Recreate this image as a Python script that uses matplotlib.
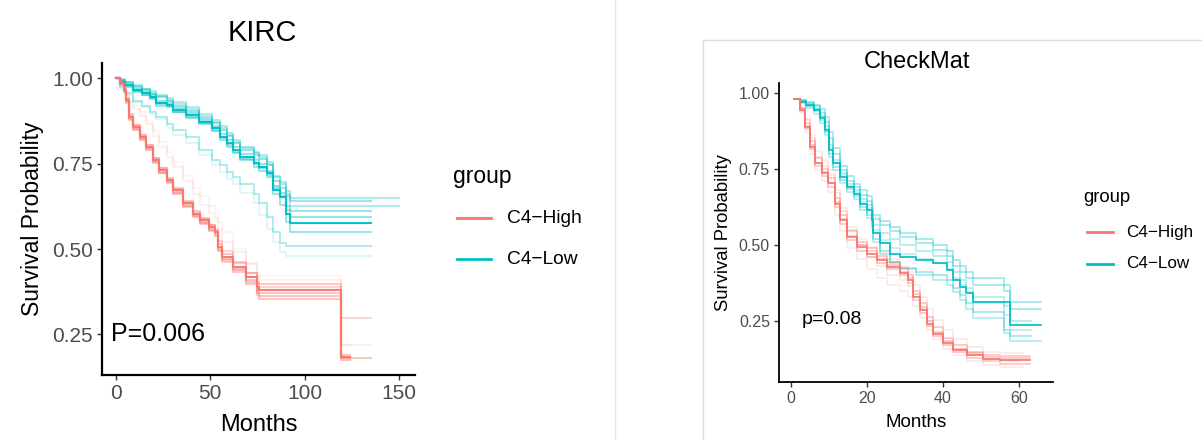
import matplotlib
matplotlib.use("Agg")
import matplotlib.pyplot as plt
from matplotlib.lines import Line2D
from matplotlib.patches import Rectangle

plt.rcParams["font.family"] = ["Liberation Sans", "DejaVu Sans"]

RED = "#F8766D"
TEAL = "#00BFC4"
GROUPS = ["C4\u2212High", "C4\u2212Low"]

# --------------------------------------------------------------------------- #
# KIRC: Kaplan-Meier curves, shared time grids
# --------------------------------------------------------------------------- #
kirc_low_t = [0, 2, 5, 9, 14, 18, 21, 27, 30, 37, 44, 51, 55, 59, 62, 66,
              73, 76, 80, 83, 87, 90, 92]
kirc_low_main = [1.00, .990, .980, .966, .956, .946, .927, .922, .907, .893, .873, .854,
                 .829, .810, .790, .771, .751, .741, .722, .673, .653, .604, .575]
kirc_low_a = [1.00, .995, .985, .975, .965, .955, .945, .935, .920, .905, .885, .870,
              .850, .830, .810, .790, .775, .765, .745, .700, .680, .655, .640]
kirc_low_b = [1.00, .995, .988, .978, .968, .958, .948, .938, .925, .910, .890, .872,
              .855, .835, .815, .795, .780, .770, .750, .710, .690, .660, .625]
kirc_low_c = [1.00, .997, .990, .980, .970, .962, .952, .942, .930, .915, .895, .878,
              .860, .840, .820, .800, .785, .775, .755, .715, .695, .670, .650]
kirc_low_d = [1.00, .992, .982, .970, .960, .950, .935, .928, .912, .898, .878, .860,
              .838, .818, .798, .778, .760, .750, .730, .685, .665, .625, .610]
kirc_low_e = [1.00, .990, .978, .962, .952, .942, .925, .918, .902, .888, .868, .850,
              .825, .805, .785, .765, .748, .738, .718, .678, .655, .615, .595]
kirc_low_f = [1.00, .988, .975, .960, .950, .940, .920, .915, .900, .885, .865, .845,
              .820, .800, .780, .760, .740, .730, .710, .660, .630, .580, .550]
kirc_low_g = [1.00, .975, .956, .935, .920, .900, .888, .865, .849, .829, .790, .761,
              .745, .725, .712, .690, .660, .634, .595, .550, .517, .510, .510]
kirc_low_h = [1.00, .970, .950, .930, .915, .895, .880, .855, .835, .810, .775, .745,
              .725, .705, .690, .665, .635, .600, .560, .520, .490, .480, .480]
kirc_low_curves = [kirc_low_main, kirc_low_a, kirc_low_b, kirc_low_c, kirc_low_d,
                   kirc_low_e, kirc_low_f, kirc_low_g, kirc_low_h]
kirc_low_end = [135, 135, 150, 150, 135, 135, 135, 135, 135]

kirc_high_t = [0, 2, 4, 5.5, 7, 9, 12.5, 16, 19.5, 23, 27, 30, 35.5, 41, 44.5, 49.5,
               52.5, 54, 56, 62, 69, 74.5, 76, 118, 119.5]
kirc_high_main = [1.00, .985, .966, .937, .888, .858, .829, .800, .761, .731, .702, .673,
                  .634, .604, .585, .565, .551, .507, .478, .448, .419, .390, .380, .380, .185]
kirc_high_a = [1.00, .987, .969, .942, .895, .864, .835, .806, .768, .738, .708, .679,
               .640, .610, .591, .571, .557, .515, .486, .458, .430, .404, .398, .398, .190]
kirc_high_b = [1.00, .987, .968, .940, .893, .862, .833, .804, .766, .736, .706, .677,
               .638, .608, .589, .569, .555, .525, .495, .462, .430, .400, .390, .390, .297]
kirc_high_c = [1.00, .983, .963, .933, .884, .854, .825, .796, .757, .727, .698, .668,
               .629, .599, .580, .560, .546, .502, .472, .442, .410, .378, .372, .372, .180]
kirc_high_d = [1.00, .983, .962, .931, .881, .851, .822, .793, .754, .724, .695, .665,
               .626, .596, .577, .557, .542, .498, .468, .438, .404, .372, .362, .362, .175]
kirc_high_e = [1.00, .982, .960, .928, .878, .848, .819, .790, .752, .722, .692, .662,
               .623, .593, .574, .554, .538, .494, .462, .432, .398, .366, .355, .355, .180]
kirc_high_f = [1.00, .990, .975, .955, .930, .910, .890, .865, .830, .800, .770, .740,
               .700, .660, .630, .605, .590, .560, .520, .490, .455, .420, .410, .410, .220]
kirc_high_g = [1.00, .990, .980, .960, .940, .920, .900, .875, .845, .815, .785, .755,
               .715, .680, .655, .625, .610, .580, .550, .500, .460, .430, .420, .420, .220]
kirc_high_curves = [kirc_high_main, kirc_high_a, kirc_high_b, kirc_high_c, kirc_high_d,
                    kirc_high_e, kirc_high_f, kirc_high_g]
kirc_high_end = [124, 124, 135, 135, 124, 124, 135, 124]

# --------------------------------------------------------------------------- #
# CheckMat
# --------------------------------------------------------------------------- #
cm_low_t = [1, 2.5, 4, 6, 7.7, 9, 10, 11.2, 13, 14.7, 16.5, 18.2, 20, 21.3, 21.7, 23.5,
            26, 28.7, 33, 37.5, 41, 42.7, 44.5, 46, 48, 56, 57.6]
cm_low_main = [.981, .970, .960, .943, .916, .877, .812, .768, .724, .691, .669, .636, .615,
               .582, .538, .505, .472, .461, .450, .440, .418, .385, .363, .341, .313, .313, .237]
cm_low_a = [.981, .975, .970, .960, .945, .920, .870, .820, .760, .725, .700, .680, .660,
            .630, .600, .580, .560, .540, .520, .500, .480, .450, .430, .410, .390, .370, .313]
cm_low_b = [.981, .975, .965, .955, .935, .905, .850, .800, .745, .710, .690, .665, .645,
            .610, .585, .565, .545, .525, .505, .485, .465, .430, .410, .390, .370, .350, .290]
cm_low_c = [.981, .972, .962, .948, .925, .890, .830, .780, .735, .700, .680, .650, .630,
            .600, .565, .540, .520, .500, .480, .465, .445, .410, .385, .360, .330, .300, .250]
cm_low_d = [.981, .968, .955, .940, .910, .870, .800, .755, .715, .685, .660, .625, .600,
            .570, .520, .480, .445, .425, .410, .400, .385, .360, .335, .310, .280, .220, .200]
cm_low_e = [.981, .965, .950, .930, .900, .860, .790, .745, .705, .675, .650, .615, .590,
            .555, .510, .470, .440, .420, .400, .385, .370, .345, .320, .290, .260, .210, .184]
cm_low_f = [.981, .970, .958, .945, .920, .880, .820, .770, .730, .695, .675, .640, .620,
            .590, .550, .515, .490, .470, .455, .440, .420, .390, .370, .345, .310, .270, .220]
cm_low_curves = [cm_low_main, cm_low_a, cm_low_b, cm_low_c, cm_low_d, cm_low_e, cm_low_f]
cm_low_end = [65.7, 65.7, 65.7, 63, 63, 65.7, 63]

cm_high_t = [1, 2.5, 3.8, 5.1, 6.4, 8.1, 9.9, 11.6, 13, 14.7, 17.3, 20, 22.6, 25.2, 28.7,
             30.9, 32.2, 34, 35.7, 37.5, 40.1, 42.7, 46.2, 50.6, 55]
cm_high_main = [.981, .943, .888, .823, .768, .735, .702, .636, .582, .527, .494, .472, .450,
                .428, .407, .385, .330, .286, .242, .209, .177, .155, .138, .127, .122]
cm_high_a = [.981, .950, .900, .840, .785, .750, .720, .655, .600, .545, .510, .490, .465,
             .445, .425, .400, .350, .310, .265, .230, .195, .170, .150, .140, .135]
cm_high_b = [.981, .940, .880, .815, .760, .725, .690, .625, .570, .515, .480, .460, .440,
             .420, .400, .375, .320, .275, .235, .200, .170, .148, .130, .118, .110]
cm_high_c = [.981, .955, .915, .860, .810, .780, .745, .680, .620, .560, .520, .495, .475,
             .455, .430, .410, .370, .330, .290, .255, .220, .190, .165, .150, .145]
cm_high_d = [.981, .935, .870, .800, .745, .710, .675, .600, .545, .490, .455, .420, .390,
             .370, .350, .330, .300, .260, .220, .190, .160, .140, .120, .105, .100]
cm_high_e = [.981, .945, .890, .830, .770, .740, .705, .640, .585, .530, .500, .480, .455,
             .435, .410, .390, .340, .295, .250, .215, .185, .160, .145, .132, .128]
cm_high_f = [.981, .950, .910, .850, .790, .760, .730, .670, .610, .550, .500, .460, .430,
             .400, .385, .365, .330, .290, .250, .210, .180, .160, .140, .125, .120]
cm_high_curves = [cm_high_main, cm_high_a, cm_high_b, cm_high_c, cm_high_d, cm_high_e,
                  cm_high_f]
cm_high_end = [62.9, 62.9, 62.9, 61, 61, 62.9, 60]

# line transparency per curve (first = bold estimate, rest = resamples)
ALPHA_KL = [0.95, 0.4, 0.3, 0.3, 0.4, 0.4, 0.4, 0.3, 0.12]
ALPHA_KH = [0.95, 0.4, 0.3, 0.4, 0.4, 0.4, 0.12, 0.08]
ALPHA_CL = [0.95, 0.35, 0.35, 0.3, 0.35, 0.3, 0.25]
ALPHA_CH = [0.95, 0.4, 0.4, 0.15, 0.15, 0.4, 0.2]


def draw_curves(ax, t, curves, ends, alphas, color, lw):
    # KM-style step curves, extended flat to the last follow-up time
    for s, end, a in zip(curves, ends, alphas):
        ax.step(t + [end], s + [s[-1]], where="post", color=color, alpha=a, lw=lw)


def style_axes(ax, xticks, tick_fs, spine_lw):
    for side in ("top", "right"):
        ax.spines[side].set_visible(False)
    for side in ("left", "bottom"):
        ax.spines[side].set_linewidth(spine_lw)
        ax.spines[side].set_color("black")
    ax.set_xticks(xticks)
    ax.set_yticks([0.25, 0.5, 0.75, 1.0])
    ax.set_yticklabels(["0.25", "0.50", "0.75", "1.00"])
    ax.tick_params(length=3.5, width=1, color="#333333", labelcolor="#4D4D4D",
                   labelsize=tick_fs, pad=3)


def legend_block(fig, title_xy, line_x, text_x, item_y, fs_title, fs_item):
    """Legend drawn in pixel coordinates (origin top-left)."""
    fig.text(title_xy[0] / W, 1 - title_xy[1] / H, "group", fontsize=fs_title,
             va="center", ha="left")
    for yy, lab, col in zip(item_y, GROUPS, [RED, TEAL]):
        fig.add_artist(Line2D([line_x[0] / W, line_x[1] / W], [1 - yy / H] * 2,
                              transform=fig.transFigure, color=col, lw=2))
        fig.text(text_x / W, 1 - yy / H, lab, fontsize=fs_item, va="center", ha="left")


W, H = 1202, 440
fig = plt.figure(figsize=(W / 100, H / 100), dpi=100)

# divider and right-hand frame
fig.add_artist(Line2D([615 / W, 615 / W], [0, 1], transform=fig.transFigure,
                      color="#E6E6E6", lw=1))
fig.add_artist(Rectangle((703 / W, -0.01), 0.5, 1 - 40 / H + 0.01,
                         transform=fig.transFigure, fill=False,
                         edgecolor="#DDDDDD", lw=1))

# ---- KIRC -----------------------------------------------------------------
ax1 = fig.add_axes([102 / W, 1 - 375 / H, (415 - 102) / W, (375 - 63) / H])
draw_curves(ax1, kirc_low_t, kirc_low_curves, kirc_low_end, ALPHA_KL, TEAL, 1.5)
draw_curves(ax1, kirc_high_t, kirc_high_curves, kirc_high_end, ALPHA_KH, RED, 1.5)
ax1.set_xlim(-7.4, 158.5)
ax1.set_ylim(0.131, 1.045)
style_axes(ax1, [0, 50, 100, 150], 15, 1.6)
ax1.set_xlabel("Months", fontsize=17, labelpad=8)
ax1.set_ylabel("Survival Probability", fontsize=16.5, labelpad=6)
fig.text(262 / W, 1 - 33 / H, "KIRC", fontsize=21, ha="center", va="center")
ax1.text(-2.5, 0.25, "P=0.006", fontsize=18, ha="left", va="center")
legend_block(fig, (453, 176), (457, 491), 507, [218, 259], 16.5, 13.8)

# ---- CheckMat ---------------------------------------------------------------
ax2 = fig.add_axes([779 / W, 1 - 382 / H, (1053 - 779) / W, (382 - 83) / H])
draw_curves(ax2, cm_low_t, cm_low_curves, cm_low_end, ALPHA_CL, TEAL, 1.3)
draw_curves(ax2, cm_high_t, cm_high_curves, cm_high_end, ALPHA_CH, RED, 1.3)
ax2.set_xlim(-3.07, 68.9)
ax2.set_ylim(0.05, 1.032)
style_axes(ax2, [0, 20, 40, 60], 11.5, 1.3)
ax2.set_xlabel("Months", fontsize=13.5, labelpad=6)
ax2.set_ylabel("Survival Probability", fontsize=13.3, labelpad=5)
fig.text(917 / W, 1 - 62 / H, "CheckMat", fontsize=17, ha="center", va="center")
ax2.text(3, 0.254, "p=0.08", fontsize=14, ha="left", va="center")
legend_block(fig, (1083, 198), (1087, 1113), 1126, [232, 264], 13.3, 12.3)

fig.savefig("out.png", dpi=100)
